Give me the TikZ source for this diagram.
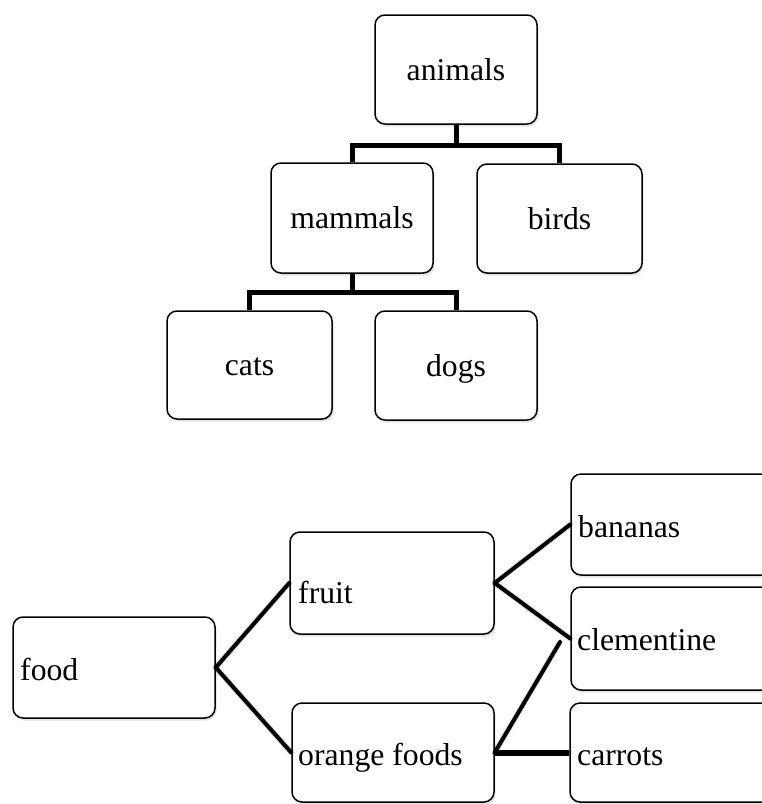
\documentclass[tikz,border=0pt]{standalone}
\usepackage{fontspec}
\setmainfont{Liberation Serif}
\usetikzlibrary{shadows}
\begin{document}
\begin{tikzpicture}[x=1pt,y=-1pt,
  box/.style={draw=black, line width=1.5pt, rounded corners=10pt, fill=white,
    drop shadow={shadow xshift=1.5pt, shadow yshift=-2.5pt, opacity=0.22}, inner sep=0pt},
  lbl/.style={font=\fontsize{31.7}{36}\selectfont, inner sep=0pt, text height=21.7pt, text depth=0pt},
  tree/.style={line width=5pt, line join=miter},
  link/.style={line width=4pt, line cap=round},
  linkshadow/.style={line width=6pt, draw=black, opacity=0.12, line cap=round},
]
\useasboundingbox (0,0) rectangle (762,804);
\clip (0,0) rectangle (762,804);

% ---- top tree ----
\node[box, lbl, minimum width=162pt, minimum height=109pt] (animals) at (456,69.5) {animals};
\node[box, lbl, minimum width=162pt, minimum height=110pt] (mammals) at (352,218) {mammals};
\node[box, lbl, minimum width=165pt, minimum height=109pt] (birds) at (559.5,218.5) {birds};
\node[box, lbl, minimum width=165pt, minimum height=108pt] (cats) at (249.5,365) {cats};
\node[box, lbl, minimum width=162pt, minimum height=109pt] (dogs) at (456,365.5) {dogs};

\draw[tree] (animals.south) -- ++(0,21) coordinate (j1) -| (mammals.north);
\draw[tree] (j1) -| (birds.north);
\draw[tree] (mammals.south) -- ++(0,19) coordinate (j2) -| (cats.north);
\draw[tree] (j2) -| (dogs.north);

% ---- bottom map ----
\node[box, minimum width=202pt, minimum height=101pt] (food) at (114,667.5) {};
\node[box, minimum width=204pt, minimum height=102pt] (fruit) at (392,583) {};
\node[box, minimum width=202pt, minimum height=99pt] (orange) at (393,752.5) {};
\node[box, minimum width=204pt, minimum height=101pt] (bananas) at (673,524.5) {};
\node[box, minimum width=204pt, minimum height=103pt] (clementine) at (673,638.5) {};
\node[box, minimum width=204pt, minimum height=99pt] (carrots) at (672,752.5) {};

\node[lbl, anchor=base west] (foodt) at (20,680) {food};
\node[lbl, anchor=base west] (fruitt) at (298,603) {fruit};
\node[lbl, anchor=base west] (oranget) at (298,765) {orange foods};
\node[lbl, anchor=base west] (bananast) at (578,537) {bananas};
\node[lbl, anchor=base west] (clementinet) at (577,650) {clementine};
\node[lbl, anchor=base west] (carrotst) at (577,765) {carrots};

\coordinate (clend) at (560,642);

% soft shadows of links
\begin{scope}[shift={(1.5,2.5)}]
\draw[linkshadow] (food.east) -- (fruit.west);
\draw[linkshadow] (food.east) -- (orange.west);
\draw[linkshadow] (fruit.east) -- (bananas.west);
\draw[linkshadow] (fruit.east) -- (clementine.west);
\draw[linkshadow] (orange.east) -- (clend);
\draw[linkshadow] (orange.east) -- (carrots.west);
\end{scope}

\draw[link] (food.east) -- (fruit.west);
\draw[link] (food.east) -- (orange.west);
\draw[link] (fruit.east) -- (bananas.west);
\draw[link] (fruit.east) -- (clementine.west);
\draw[link] (orange.east) -- (clend);
\draw[line width=6pt] (orange.east) -- (carrots.west);
\end{tikzpicture}
\end{document}
